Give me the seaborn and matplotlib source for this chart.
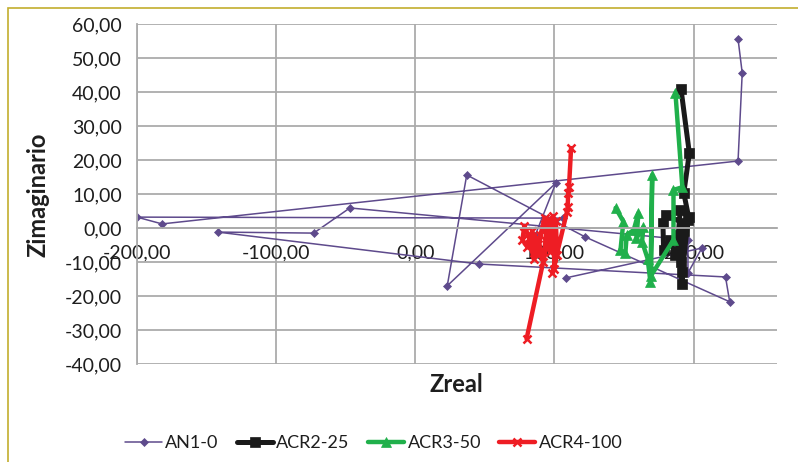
import matplotlib
matplotlib.use("Agg")
import matplotlib.pyplot as plt
import matplotlib.ticker as mticker
from matplotlib.patches import Rectangle
import numpy as np
import pandas as pd
import seaborn as sns

# series (Zreal, Zimaginario)
an1_x = [232, 235, 232, -182, -200, 106, 86, 101, 23, 37, 122, 226, 223, 46, -142, -73, -47, 196, 196, 206, 108]
an1_y = [55.6, 45.6, 19.7, 1.2, 3.2, 2.9, -2.4, 13.2, -17.0, 15.6, -2.6, -21.7, -14.4, -10.6, -1.2, -1.5, 5.9, -3.5, -13.2, -5.9, -14.7]

acr2_x = [191, 197, 193, 196.5, 190.5, 189, 193, 180, 178, 178.5, 183, 187, 190, 192, 191, 193, 196, 192]
acr2_y = [40.9, 22.0, 10.3, 3.2, 5.3, -2.0, 1.5, 3.8, 1.5, -6.5, -3.5, -8.0, -4.0, -16.5, -10.0, -1.0, 2.5, -13.0]

acr3_x = [144, 149.6, 147.5, 151, 152, 157, 160.4, 159, 164, 163, 167, 169, 170.3, 169.5, 185.6, 185.6, 192, 187]
acr3_y = [5.9, 1.9, -6.5, -7.4, -2.0, -0.6, 4.4, -3.0, 0.3, -4.0, -9.0, -15.8, 15.6, -14.0, -3.5, 11.2, 12.0, 39.7]

acr4_x = [80, 98, 95, 93, 90, 88, 86, 84, 80.6, 77, 78.4, 82, 85, 88, 92, 95, 97, 99, 100, 101, 102, 98.6, 109, 109.5, 110, 110.5, 112]
acr4_y = [-32.6, 1.5, -4, 3, -2, -8, -5, -1, -5.6, -3.5, 0.6, -3, -9, -3, -10, 2.5, -7, 3.5, -12, 2, -8, -13.2, 4.7, 6.2, 10.3, 12, 23.5]

labels = ["AN1-0", "ACR2-25", "ACR3-50", "ACR4-100"]
colors = ["#5E4A8C", "#1A1A1A", "#20B04B", "#EE1D24"]
markers = ["D", "s", "^", "x"]
widths = [1.1, 3.6, 3.2, 3.2]
msizes = [4, 7, 7, 6]

sns.set_style("white")
plt.rcParams['font.family'] = ['Lato', 'DejaVu Sans']

fig = plt.figure(figsize=(7.98, 4.62), dpi=100)
ax = fig.add_axes([137/798, 1-364/462, (777-137)/798, (364-24)/462])

series = [(an1_x, an1_y), (acr2_x, acr2_y), (acr3_x, acr3_y), (acr4_x, acr4_y)]
for (xs, ys), lab, c, m, w, ms in zip(series, labels, colors, markers, widths, msizes):
    d = pd.DataFrame({"x": xs, "y": ys})
    sns.lineplot(data=d, x="x", y="y", sort=False, estimator=None, ax=ax,
                 color=c, linewidth=w, marker=m, markersize=ms,
                 markeredgecolor=c, markerfacecolor=c,
                 markeredgewidth=1.8 if m == "x" else 0.5, label=lab)

ax.set_xlim(-200, 260)
ax.set_ylim(-40, 60)
ax.xaxis.set_major_locator(mticker.MultipleLocator(100))
ax.yaxis.set_major_locator(mticker.MultipleLocator(10))
fmt = mticker.FuncFormatter(lambda v, p: ("%.2f" % v).replace(".", ","))
ax.xaxis.set_major_formatter(fmt)
ax.yaxis.set_major_formatter(fmt)
ax.grid(True, color="#ABABAB", linewidth=1.3)
ax.set_axisbelow(True)

for s in ["top", "right"]:
    ax.spines[s].set_visible(False)
ax.spines["bottom"].set_position(("data", 0))
ax.spines["bottom"].set_color("#ABABAB")
ax.spines["bottom"].set_linewidth(1.3)
ax.spines["left"].set_color("#ABABAB")
ax.spines["left"].set_linewidth(1.3)
ax.tick_params(axis="x", length=0, pad=12, labelsize=14, colors="#1E1E1E")
ax.tick_params(axis="y", length=0, pad=11, labelsize=14, colors="#1E1E1E")

ax.set_xlabel("")
ax.set_ylabel("")
fig.text(456/798, 1-385/462, "Zreal", ha="center", va="center",
         fontsize=17, fontweight="bold", color="#1E1E1E")
fig.text(38/798, 1-195/462, "Zimaginario", ha="center", va="center",
         rotation=90, fontsize=17, fontweight="bold", color="#1E1E1E")

ax.get_legend().remove()
handles, labs = ax.get_legend_handles_labels()
fig.legend(handles, labs, loc="center", bbox_to_anchor=(374/798, 1-443/462),
           ncol=4, frameon=False, fontsize=13, handlelength=2.0,
           columnspacing=1.0, handletextpad=0.2, labelcolor="#1E1E1E")

fig.patches.append(Rectangle((8/798, -0.1), 1.2, 1-8/462+0.1, transform=fig.transFigure,
                             fill=False, edgecolor="#C2AE2E", linewidth=1.2))

fig.savefig("out.png", dpi=100)
